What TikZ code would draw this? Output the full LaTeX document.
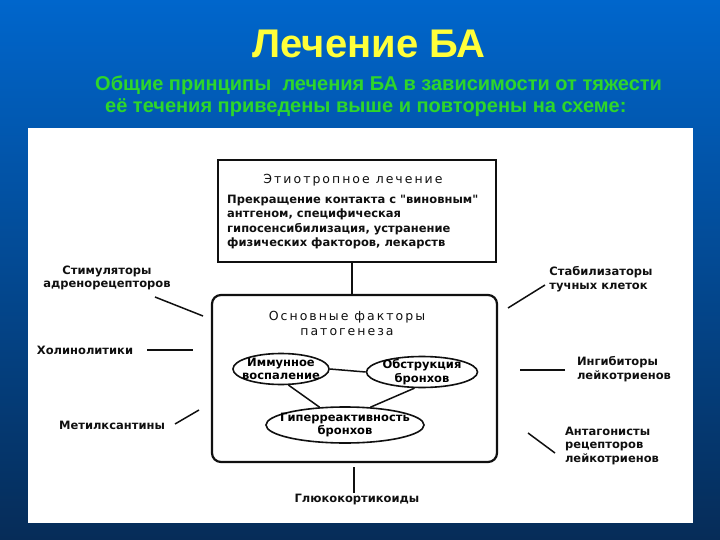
\documentclass[tikz,border=0pt]{standalone}
\usepackage{fontspec}
\setmainfont{DejaVu Sans}[Ligatures=TeXOff]
\newfontfamily\titlefont{Liberation Sans}
\newfontfamily\headfont[LetterSpace=16]{DejaVu Sans}
\usetikzlibrary{positioning,shapes.geometric,calc}
\definecolor{bgtop}{HTML}{0066CC}
\definecolor{bgmid}{HTML}{0A4E9E}
\definecolor{bgbot}{HTML}{062C58}
\definecolor{titley}{HTML}{FFFF3A}
\definecolor{subg}{HTML}{2ED62A}
\definecolor{ink}{HTML}{101010}

\begin{document}
\begin{tikzpicture}[x=1pt,y=-1pt,
  box/.style={draw=ink,line width=2.2pt,inner sep=0pt},
  oval/.style={draw=ink,ellipse,line width=1.6pt,inner xsep=-12pt,inner ysep=-4pt,align=center,font=\bfseries\fontsize{11.5}{13.5}\selectfont},
  lbl/.style={text=ink,align=left,inner sep=1pt,font=\bfseries\fontsize{11.5}{13.8}\selectfont},
  link/.style={draw=ink,line width=1.5pt}]
\useasboundingbox (0,0) rectangle (720,540);
\shade[top color=bgtop,middle color=bgmid,bottom color=bgbot] (0,0) rectangle (720,540);
\fill[white] (28,128) rectangle (693,523);
% headings
\node[text=titley,font=\titlefont\bfseries\fontsize{40}{44}\selectfont] (title) at (369,44){Лечение БА};
\node[text=subg,anchor=west,inner sep=0pt,font=\titlefont\bfseries\fontsize{20}{22}\selectfont] (sub1) at (95,85){Общие принципы\ \ лечения БА в зависимости от тяжести};
\node[text=subg,anchor=west,inner sep=0pt,font=\titlefont\bfseries\fontsize{20}{22}\selectfont] (sub2) at (105,108){её течения приведены выше и повторены на схеме:};
% etiotropic box
\node[box,minimum width=278pt,minimum height=102pt] (etio) at (357,211){};
\node[text=ink,font=\headfont\fontsize{12.5}{14}\selectfont] (etiohead) at (353,180){Этиотропное лечение};
\node[lbl,anchor=north west,font=\bfseries\fontsize{11.5}{14.4}\selectfont] (etiobody) at (226,194){Прекращение контакта с "виновным"\\антгеном, специфическая\\гипосенсибилизация, устранение\\физических факторов, лекарств};
% pathogenesis box
\node[box,rounded corners=9pt,minimum width=285pt,minimum height=167pt] (main) at (354.5,378.5){};
\node[text=ink,align=center,font=\headfont\fontsize{12.5}{15}\selectfont] (maintitle) at (347,323){Основные факторы\\патогенеза};
\node[oval,minimum width=96pt,minimum height=31pt] (imm) at (281,369){Иммунное\\воспаление};
\node[oval,minimum width=111pt,minimum height=31pt] (obs) at (422,372){Обструкция\\бронхов};
\node[oval,minimum width=158pt,minimum height=36pt] (hyp) at (345,425){Гиперреактивность\\бронхов};
\draw[link] (imm.east) -- (obs.west);
\draw[link] (imm.-65) -- (hyp.145);
\draw[link] (obs.-115) -- (hyp.35);
\coordinate (etiofoot) at (352,262);
\coordinate (mainhead) at (352,296);
\draw[link] (etiofoot) -- (mainhead);
% drugs
\node[lbl,align=center] (stim) at (107,278){Стимуляторы\\адренорецепторов};
\node[lbl] (chol) at (85,350){Холинолитики};
\node[lbl] (metil) at (112,425){Метилксантины};
\node[lbl] (stab) at (601,279){Стабилизаторы\\тучных клеток};
\node[lbl] (ingib) at (624,369){Ингибиторы\\лейкотриенов};
\node[lbl] (antag) at (612,446){Антагонисты\\рецепторов\\лейкотриенов};
\node[lbl] (gluk) at (357,500){Глюкокортикоиды};
\coordinate (stimtip) at (155,297);   \coordinate (stimend) at (203,316);
\coordinate (choltip) at (147,350);   \coordinate (cholend) at (193,350);
\coordinate (metiltip) at (175,424);  \coordinate (metilend) at (199,410);
\coordinate (stabtip) at (545,285);   \coordinate (stabend) at (508,308);
\coordinate (ingibtip) at (565,370);  \coordinate (ingibend) at (520,370);
\coordinate (antagtip) at (555,453);  \coordinate (antagend) at (528,433);
\coordinate (glukend) at (354,467);
\draw[link] (stimtip) -- (stimend);
\draw[link] (choltip) -- (cholend);
\draw[link] (metiltip) -- (metilend);
\draw[link] (stabtip) -- (stabend);
\draw[link] (ingibtip) -- (ingibend);
\draw[link] (antagtip) -- (antagend);
\draw[link] (glukend) -- (glukend |- gluk.north);
\end{tikzpicture}
\end{document}
